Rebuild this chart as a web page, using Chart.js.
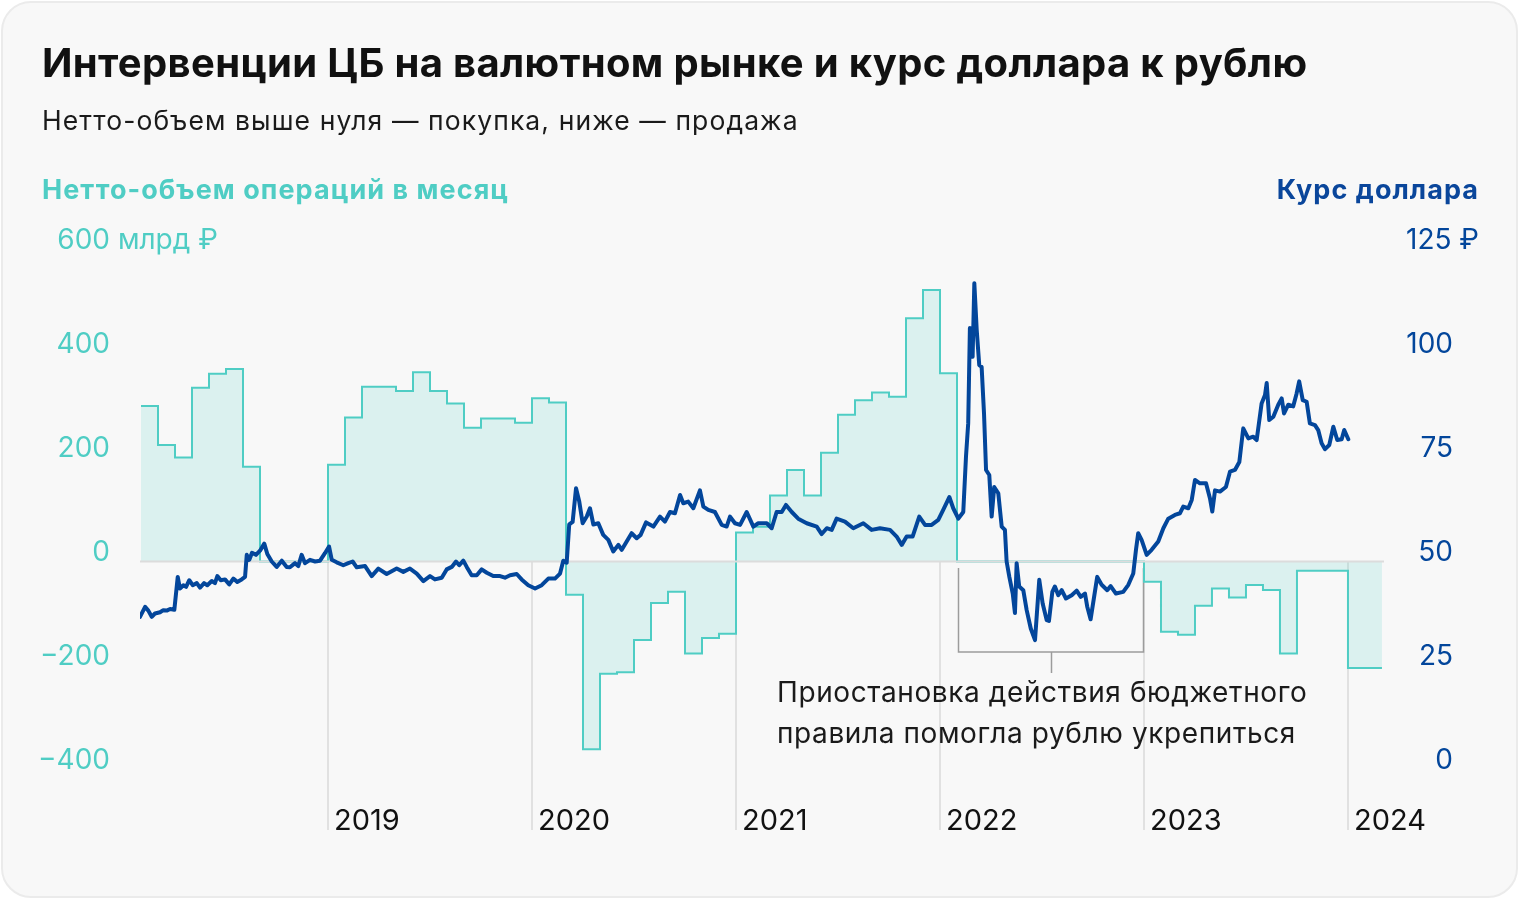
<!DOCTYPE html>
<html lang="ru">
<head>
<meta charset="utf-8">
<title>Интервенции ЦБ на валютном рынке и курс доллара к рублю</title>
<script src="https://cdn.jsdelivr.net/npm/chart.js@4.4.1/dist/chart.umd.min.js"></script>
<style>
html,body{margin:0;padding:0;background:#ffffff;}
body{width:1520px;height:900px;position:relative;overflow:hidden;font-family:Inter,"Noto Sans",sans-serif;}
.card{position:absolute;left:1px;top:1px;width:1517px;height:897px;box-sizing:border-box;border:2px solid #ebebeb;border-radius:30px;background:#f8f8f8;}
#chart{position:absolute;left:0;top:0;}
.t{position:absolute;white-space:nowrap;line-height:1;margin:0;}
h1.t{left:42px;top:43px;font-size:40px;font-weight:700;letter-spacing:0.35px;color:#111;}
.sub{left:42px;top:107px;font-size:26.5px;letter-spacing:1.1px;color:#1a1a1a;}
.axl{left:42px;top:176px;font-size:27px;font-weight:700;letter-spacing:1.05px;color:#4fcdc4;}
.axr{right:41px;top:176px;font-size:27px;font-weight:700;letter-spacing:1.05px;color:#0a469b;}
.note{left:777px;top:672px;font-size:28px;line-height:41px;letter-spacing:0.6px;color:#1a1a1a;}
</style>
</head>
<body>
<div class="card"></div>
<canvas id="chart" width="1520" height="900"></canvas>
<h1 class="t">Интервенции ЦБ на валютном рынке и курс доллара к рублю</h1>
<div class="t sub">Нетто-объем выше нуля — покупка, ниже — продажа</div>
<div class="t axl">Нетто-объем операций в месяц</div>
<div class="t axr">Курс доллара</div>
<div class="t note">Приостановка действия бюджетного<br>правила помогла рублю укрепиться</div>
<script>
// x = months since Jan 2018 (0 = Jan 2018)
const flowStart = 1; // Feb 2018
// net monthly volume, bn rub (Feb 2018 .. Feb 2024)
const flowValues = [
  299, 224, 200, 334, 361, 370, 182, 0, 0, 0, 0,
  186, 277, 336, 336, 328, 364, 328, 304, 257, 275, 275, 267,
  314, 306, -64, -361, -216, -213, -151, -80, -58, -177, -147, -139,
  56, 67, 127, 176, 127, 209, 282, 310, 325, 317, 468, 522,
  362, 0, 0, 0, 0, 0, 0, 0, 0, 0, 0, 0,
  -39, -135, -141, -85, -52, -69, -45, -55, -177, -18, -18, -18,
  -205, -205
];

const rateMonths = [
  0.94,1.24,1.43,1.63,1.82,2.12,2.31,2.51,2.71,2.96,3.16,3.29,3.49,3.65,3.84,4.04,4.28,4.47,4.71,4.90,
  5.16,5.35,5.49,5.69,5.94,6.19,6.43,6.66,6.92,7.12,7.22,7.37,7.53,7.76,8.00,8.25,8.43,8.69,8.98,9.28,
  9.57,9.76,10.06,10.25,10.45,10.65,10.94,11.24,11.53,11.82,
  12.06,12.22,12.51,12.90,13.19,13.45,13.69,14.18,14.57,14.96,15.45,16.04,16.43,16.82,17.22,17.61,18.00,
  18.29,18.69,18.98,19.28,19.53,19.72,19.96,20.16,20.45,20.75,21.04,21.34,21.72,22.12,22.41,22.71,23.10,
  23.39,23.78,
  24.18,24.57,24.96,25.35,25.65,25.84,26.04,26.19,26.39,26.59,26.78,26.98,27.22,27.41,27.61,27.90,28.19,
  28.49,28.78,29.08,29.28,29.57,29.86,30.16,30.39,30.71,31.14,31.53,31.82,32.12,32.41,32.71,32.90,33.19,
  33.49,33.88,34.08,34.37,34.76,35.16,35.45,35.65,35.94,
  36.24,36.63,37.02,37.31,37.81,38.10,38.39,38.69,38.94,39.28,39.66,40.16,40.75,41.04,41.34,41.63,41.92,
  42.41,42.90,43.49,43.98,44.47,45.06,45.45,45.75,46.04,46.39,46.78,47.12,47.51,47.90,
  48.19,48.55,48.78,49.08,49.37,49.53,49.66,49.76,49.92,50.02,50.16,50.31,50.45,50.59,50.71,50.90,51.04,
  51.19,51.43,51.63,51.82,51.92,52.08,52.28,52.41,52.51,52.66,52.90,53.10,53.34,53.59,53.84,54.04,54.28,
  54.41,54.61,54.76,54.96,55.16,55.41,55.75,56.04,56.28,56.53,56.66,56.86,57.25,57.51,57.84,58.04,58.35,
  58.78,59.08,59.37,59.53,59.66,59.86,
  60.16,60.45,60.84,61.14,61.43,61.82,62.12,62.31,62.61,62.81,63.00,63.29,63.65,63.88,64.02,64.18,64.47,
  64.82,65.06,65.35,65.61,65.84,66.14,66.43,66.63,66.92,67.12,67.22,67.37,67.61,67.90,68.10,68.24,68.49,
  68.78,68.98,69.13,69.34,69.57,69.76,70.06,70.25,70.45,70.65,70.90,71.14,71.37,71.63,71.78,72.02
];
// USD/RUB, rub
const rateValues = [
  36.7,39.1,38.2,36.7,37.5,37.8,38.3,38.2,38.6,38.4,46.3,43.5,44.3,43.9,45.5,44.3,44.8,43.7,44.8,44.3,
  45.3,44.8,46.5,45.5,45.7,44.5,45.9,45.1,45.7,46.3,51.6,50.4,52.1,51.6,52.6,54.3,51.8,50.0,48.7,50.2,
  48.7,48.6,49.6,48.9,51.6,49.6,50.4,50.0,50.2,52.0,
  53.6,50.4,49.8,49.1,49.6,50.0,48.6,48.9,46.5,48.3,47.0,48.3,47.5,48.3,47.1,45.3,46.5,
  45.7,46.1,48.1,48.7,50.0,49.1,50.2,48.7,46.7,46.7,48.1,47.3,46.5,46.5,46.1,46.7,47.0,
  45.7,44.3,
  43.5,44.3,45.9,45.9,47.1,50.2,49.7,58.9,59.5,67.6,64.4,59.2,60.8,62.8,58.9,59.2,56.4,
  55.2,52.4,54.0,52.8,54.8,56.8,55.6,56.4,59.4,58.4,60.8,59.6,61.9,61.6,66.0,64.0,64.4,
  62.8,67.1,63.2,62.4,61.9,58.8,58.4,60.8,59.2,
  58.8,61.9,58.4,59.2,59.2,58.0,61.9,61.9,63.6,61.9,60.3,59.2,58.4,56.6,58.0,57.6,60.3,
  59.6,58.0,59.2,57.6,58.0,57.6,56.0,54.0,56.0,56.0,60.8,58.8,58.8,60.0,
  62.4,65.5,62.8,60.3,61.9,75.2,83.2,106.1,99.2,116.9,105.7,97.2,96.8,85.6,72.0,70.8,60.8,
  67.9,66.4,58.4,57.6,50.0,46.3,42.3,37.6,49.6,44.0,43.1,38.3,33.9,31.1,45.6,39.9,35.9,
  35.7,42.7,44.0,41.9,43.1,41.1,41.9,43.0,41.5,42.3,39.2,36.1,46.3,44.4,43.1,44.1,42.3,
  42.7,44.4,47.1,52.8,56.8,55.2,
  51.6,52.8,54.8,58.0,60.3,61.2,61.6,63.2,62.8,64.8,69.6,68.8,68.8,65.2,62.0,67.1,66.8,
  67.9,71.6,72.0,73.9,82.0,79.6,80.0,79.2,88.0,90.0,92.9,84.0,84.8,87.7,89.2,85.6,87.7,
  87.3,90.4,93.3,88.8,88.4,83.2,82.8,81.6,78.4,77.0,78.0,82.4,79.2,79.4,81.6,79.4
];

const yearMonths = [12, 24, 36, 48, 60, 72];
const yearLabels = ['2019', '2020', '2021', '2022', '2023', '2024'];
const flowTicks = [600, 400, 200, 0, -200, -400];
const rateTicks = [125, 100, 75, 50, 25, 0];

const TEAL = '#4fcdc4';
const BLUE = '#03469b';

const flowPoints = flowValues.map((v, i) => ({x: flowStart + i, y: v}));
flowPoints.push({x: flowStart + flowValues.length, y: flowValues[flowValues.length - 1]});
const ratePoints = rateMonths.map((m, i) => ({x: m, y: rateValues[i]}));

function minus(n){ return n < 0 ? '\u2212' + Math.abs(n) : String(n); }

const decor = {
  id: 'decor',
  beforeDatasetsDraw(chart){
    const {ctx, scales} = chart;
    const y0 = scales.yFlow.getPixelForValue(0);
    ctx.save();
    ctx.strokeStyle = '#e1e1e1';
    ctx.lineWidth = 2;
    yearMonths.forEach(m => {
      const px = Math.round(scales.x.getPixelForValue(m));
      ctx.beginPath(); ctx.moveTo(px, y0); ctx.lineTo(px, 830); ctx.stroke();
    });
    // bracket for 2022
    const bx1 = Math.round(scales.x.getPixelForValue(49.05)) + 0.5;
    const bx2 = Math.round(scales.x.getPixelForValue(59.95)) + 0.5;
    const bm = Math.round((bx1 + bx2) / 2) + 0.5;
    ctx.strokeStyle = '#9c9c9c';
    ctx.lineWidth = 1.5;
    ctx.beginPath();
    ctx.moveTo(bx1, 568); ctx.lineTo(bx1, 652); ctx.lineTo(bx2, 652); ctx.lineTo(bx2, 568);
    ctx.moveTo(bm, 652); ctx.lineTo(bm, 673);
    ctx.stroke();
    ctx.restore();
  },
  afterDatasetDraw(chart, args){
    if (args.index !== 1) return;
    const {ctx, chartArea, scales} = chart;
    const y0 = scales.yFlow.getPixelForValue(0);
    ctx.save();
    ctx.strokeStyle = '#dcdcdc';
    ctx.lineWidth = 2;
    ctx.beginPath(); ctx.moveTo(chartArea.left, y0); ctx.lineTo(chartArea.right, y0); ctx.stroke();
    ctx.restore();
  },
  afterDraw(chart){
    const {ctx, scales} = chart;
    ctx.save();
    ctx.font = '28px Inter, "Noto Sans", sans-serif';
    ctx.textBaseline = 'alphabetic';
    // left axis
    ctx.fillStyle = TEAL;
    flowTicks.forEach(v => {
      const py = scales.yFlow.getPixelForValue(v) - 1;
      ctx.textAlign = 'right';
      ctx.fillText(minus(v), 110, py);
      if (v === 600) { ctx.textAlign = 'left'; ctx.fillText(' млрд ₽', 110, py); }
    });
    // right axis
    ctx.fillStyle = BLUE;
    rateTicks.forEach(v => {
      const py = scales.yRate.getPixelForValue(v) - 1;
      ctx.textAlign = 'right';
      if (v === 125) { ctx.fillText('125 ₽', 1479, py); }
      else ctx.fillText(String(v), 1453, py);
    });
    // years
    ctx.fillStyle = '#111';
    ctx.textAlign = 'left';
    ctx.font = '29px Inter, "Noto Sans", sans-serif';
    yearMonths.forEach((m, i) => {
      const px = Math.round(scales.x.getPixelForValue(m));
      ctx.fillText(yearLabels[i], px + 6, 830);
    });
    ctx.restore();
  }
};

new Chart(document.getElementById('chart').getContext('2d'), {
  type: 'line',
  data: {
    datasets: [
      {
        label: 'Курс доллара',
        data: ratePoints,
        yAxisID: 'yRate',
        borderColor: BLUE,
        borderWidth: 4,
        borderJoinStyle: 'round',
        borderCapStyle: 'round',
        pointRadius: 0,
        tension: 0,
        fill: false
      },
      {
        label: 'Нетто-объем операций в месяц',
        data: flowPoints,
        yAxisID: 'yFlow',
        stepped: 'before',
        borderColor: TEAL,
        borderWidth: 2,
        pointRadius: 0,
        fill: 'origin',
        backgroundColor: 'rgba(79,205,196,0.17)'
      }
    ]
  },
  options: {
    responsive: false,
    animation: false,
    devicePixelRatio: 1,
    layout: {padding: {left: 140, right: 136, top: 249.5, bottom: 130.5}},
    plugins: {legend: {display: false}, tooltip: {enabled: false}},
    scales: {
      x: {type: 'linear', min: 0.94, max: 74.12, display: false},
      yFlow: {type: 'linear', min: -400, max: 600, display: false},
      yRate: {type: 'linear', min: 0, max: 125, display: false}
    }
  },
  plugins: [decor]
});
</script>
</body>
</html>
